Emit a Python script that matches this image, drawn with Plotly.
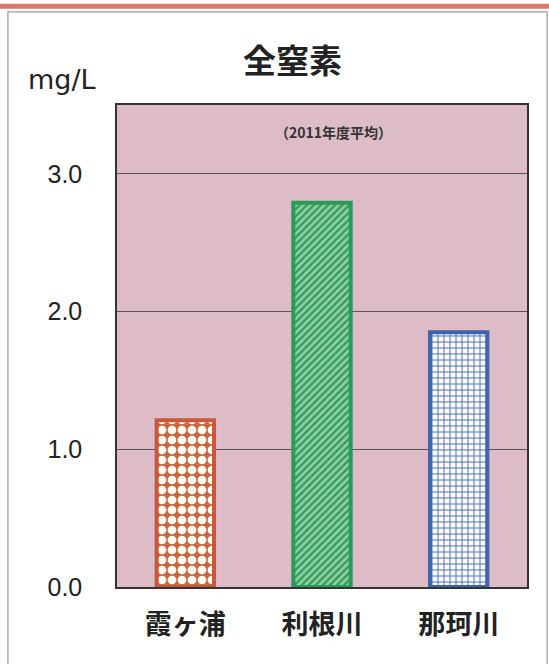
import plotly.graph_objects as go

categories = ["霞ヶ浦", "利根川", "那珂川"]
values = [1.21, 2.79, 1.85]
tick_vals = [0.0, 1.0, 2.0, 3.0]
tick_text = ["0.0", "1.0", "2.0", "3.0"]

border_colors = ["#c8583c", "#2a9a58", "#4064a8"]
bg_colors = ["#c8683e", "#8fd0a0", "#ffffff"]
fg_colors = ["#fffdf5", "#2f9a5c", "#4a6cb0"]
shapes_pat = [".", "/", "+"]
pat_sizes = [10, 5, 6]
pat_solid = [0.6, 0.45, 0.3]

fig = go.Figure()
for c, v, bc, bg, fg, sh, sz, so in zip(categories, values, border_colors, bg_colors,
                                          fg_colors, shapes_pat, pat_sizes, pat_solid):
    fig.add_trace(go.Bar(
        x=[c], y=[v], width=0.42,
        marker=dict(
            color=bg,
            line=dict(color=bc, width=4),
            pattern=dict(shape=sh, fgcolor=fg, bgcolor=bg, fgopacity=1, size=sz, solidity=so,
                         fillmode="overlay"),
        ),
        showlegend=False, hoverinfo="skip",
    ))

font_jp = "Noto Sans CJK JP"
fig.update_layout(
    width=549, height=664,
    margin=dict(l=117, r=22, t=105, b=77, autoexpand=False),
    paper_bgcolor="#ffffff",
    plot_bgcolor="#ddbcc8",
    font=dict(family=font_jp, color="#222222"),
    xaxis=dict(
        type="category", categoryorder="array", categoryarray=categories,
        showgrid=False, showline=True, linecolor="#333333", linewidth=1.5, mirror=True,
        tickfont=dict(size=27, family=font_jp, weight="bold", color="#222222"),
        ticks="", ticklabelstandoff=13, automargin=False,
    ),
    yaxis=dict(
        range=[0, 3.5], tickvals=tick_vals, ticktext=tick_text,
        showgrid=True, gridcolor="#555555", gridwidth=0.8,
        showline=True, linecolor="#333333", linewidth=1.5, mirror=True,
        tickfont=dict(size=25, family="Liberation Sans", color="#222222"),
        ticks="", ticklabelstandoff=28, zeroline=False, automargin=False,
    ),
    annotations=[
        dict(text="<b>全窒素</b>", xref="paper", yref="paper", x=0.427, y=1.095,
             xanchor="center", yanchor="middle",
             showarrow=False, font=dict(size=33, family=font_jp, color="#222222")),
        dict(text="mg/L", xref="paper", yref="paper", x=-0.134, y=1.052,
             xanchor="center", yanchor="middle",
             showarrow=False, font=dict(size=27, family="DejaVu Sans", color="#222222")),
        dict(text="<b>（2011年度平均）</b>", xref="paper", yref="paper", x=0.527, y=0.944,
             xanchor="center", yanchor="middle",
             showarrow=False, font=dict(size=14, family=font_jp, color="#333333")),
    ],
    shapes=[
        dict(type="line", xref="paper", yref="paper", x0=-0.3, x1=1.1, y0=1.205, y1=1.205,
             line=dict(color="#d9776a", width=5)),
        dict(type="rect", xref="paper", yref="paper", x0=-0.266, x1=1.049, y0=1.193, y1=-0.2,
             line=dict(color="#999999", width=1.2)),
    ],
)
fig.write_html("out.html", config={"displayModeBar": False},
               post_script="document.body.style.margin='0';document.body.style.overflow='hidden';")
